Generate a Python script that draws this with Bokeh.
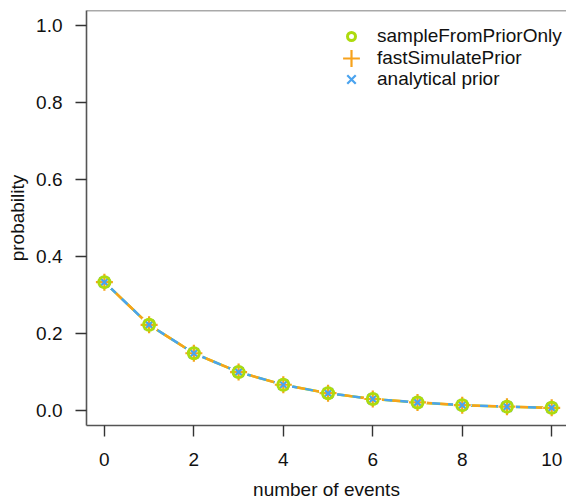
from bokeh.plotting import figure
from bokeh.models import Range1d, Span, Legend, LegendItem, FixedTicker, NumeralTickFormatter
from bokeh.embed import file_html
from bokeh.resources import INLINE

# ---- data ----
events = [0, 1, 2, 3, 4, 5, 6, 7, 8, 9, 10]
sample_from_prior_only = [0.333, 0.222, 0.148, 0.099, 0.066, 0.044, 0.029, 0.020, 0.013, 0.009, 0.006]
fast_simulate_prior = [0.333, 0.222, 0.148, 0.099, 0.066, 0.044, 0.029, 0.020, 0.013, 0.009, 0.006]
analytical_prior = [0.333, 0.222, 0.148, 0.099, 0.066, 0.044, 0.029, 0.020, 0.013, 0.009, 0.006]
series_labels = ["sampleFromPriorOnly", "fastSimulatePrior", "analytical prior"]
x_title = "number of events"
y_title = "probability"
x_ticks = [0, 2, 4, 6, 8, 10]
y_ticks = [0.0, 0.2, 0.4, 0.6, 0.8, 1.0]

GREEN = "#ADDB0E"
ORANGE = "#F7A21C"
BLUE = "#4AA3EF"
FONT = "Liberation Sans"
FS = "19px"
BOX = "#555555"

p = figure(width=566, height=503, output_backend="svg", toolbar_location=None,
           x_range=Range1d(-0.4, 10.331), y_range=Range1d(-0.04, 1.04),
           min_border_left=86, min_border_right=0, min_border_top=10, min_border_bottom=78,
           x_axis_label=x_title, y_axis_label=y_title)
p.grid.visible = False
p.outline_line_color = None
p.background_fill_color = "white"
p.border_fill_color = "white"

for ax in (p.xaxis[0], p.yaxis[0]):
    ax.axis_line_color = BOX
    ax.axis_line_width = 1.6
    ax.major_tick_line_color = "#333333"
    ax.major_tick_line_width = 1.4
    ax.major_tick_out = 11
    ax.major_tick_in = 0
    ax.minor_tick_line_color = None
    ax.major_label_text_font = FONT
    ax.major_label_text_font_size = FS
    ax.major_label_text_color = "#111111"
    ax.axis_label_text_font = FONT
    ax.axis_label_text_font_size = FS
    ax.axis_label_text_font_style = "normal"
    ax.axis_label_text_color = "#111111"

p.xaxis.ticker = FixedTicker(ticks=x_ticks)
p.yaxis.ticker = FixedTicker(ticks=y_ticks)
p.yaxis.formatter = NumeralTickFormatter(format="0.0")
p.yaxis.major_label_orientation = "horizontal"
p.xaxis.major_label_standoff = 16
p.xaxis.axis_label_standoff = 10
p.yaxis.major_label_standoff = 13
p.yaxis.axis_label_standoff = 5

p.add_layout(Span(location=1.04, dimension="width", line_color=BOX, line_width=1.6))

# lines
p.line(events, sample_from_prior_only, line_color=GREEN, line_width=2.5)
p.line(events, fast_simulate_prior, line_color=ORANGE, line_width=2.5, line_dash="8 8")
p.line(events, analytical_prior, line_color=BLUE, line_width=2.5, line_dash="8 8", line_dash_offset=8)

# gaps around points (type="b")
for ys in (sample_from_prior_only, fast_simulate_prior, analytical_prior):
    p.scatter(events, ys, marker="circle", size=18, fill_color="white", line_color=None)

r2 = p.scatter(events, fast_simulate_prior, marker="cross", size=17, line_color=ORANGE, line_width=2.2)
r3 = p.scatter(events, analytical_prior, marker="x", size=14, line_color=BLUE, line_width=2.2)
r1 = p.scatter(events, sample_from_prior_only, marker="circle", size=11, fill_color=None,
               line_color=GREEN, line_width=3)


def add_leg(label, r, g, cy):
    leg = Legend(items=[LegendItem(label=label, renderers=[r])],
                 location=(351 - g / 2 - 86, 425 - (cy + g / 2)),
                 glyph_width=g, glyph_height=g, label_height=g,
                 label_standoff=int(round(26 - g / 2)), padding=0, margin=0,
                 border_line_color=None, background_fill_alpha=0,
                 label_text_font=FONT, label_text_font_size=FS, label_text_color="#111111")
    p.add_layout(leg, "center")


add_leg(series_labels[0], r1, 20, 37)
add_leg(series_labels[1], r2, 42, 58)
add_leg(series_labels[2], r3, 30, 79)

open("out.html", "w").write(file_html(p, INLINE))
